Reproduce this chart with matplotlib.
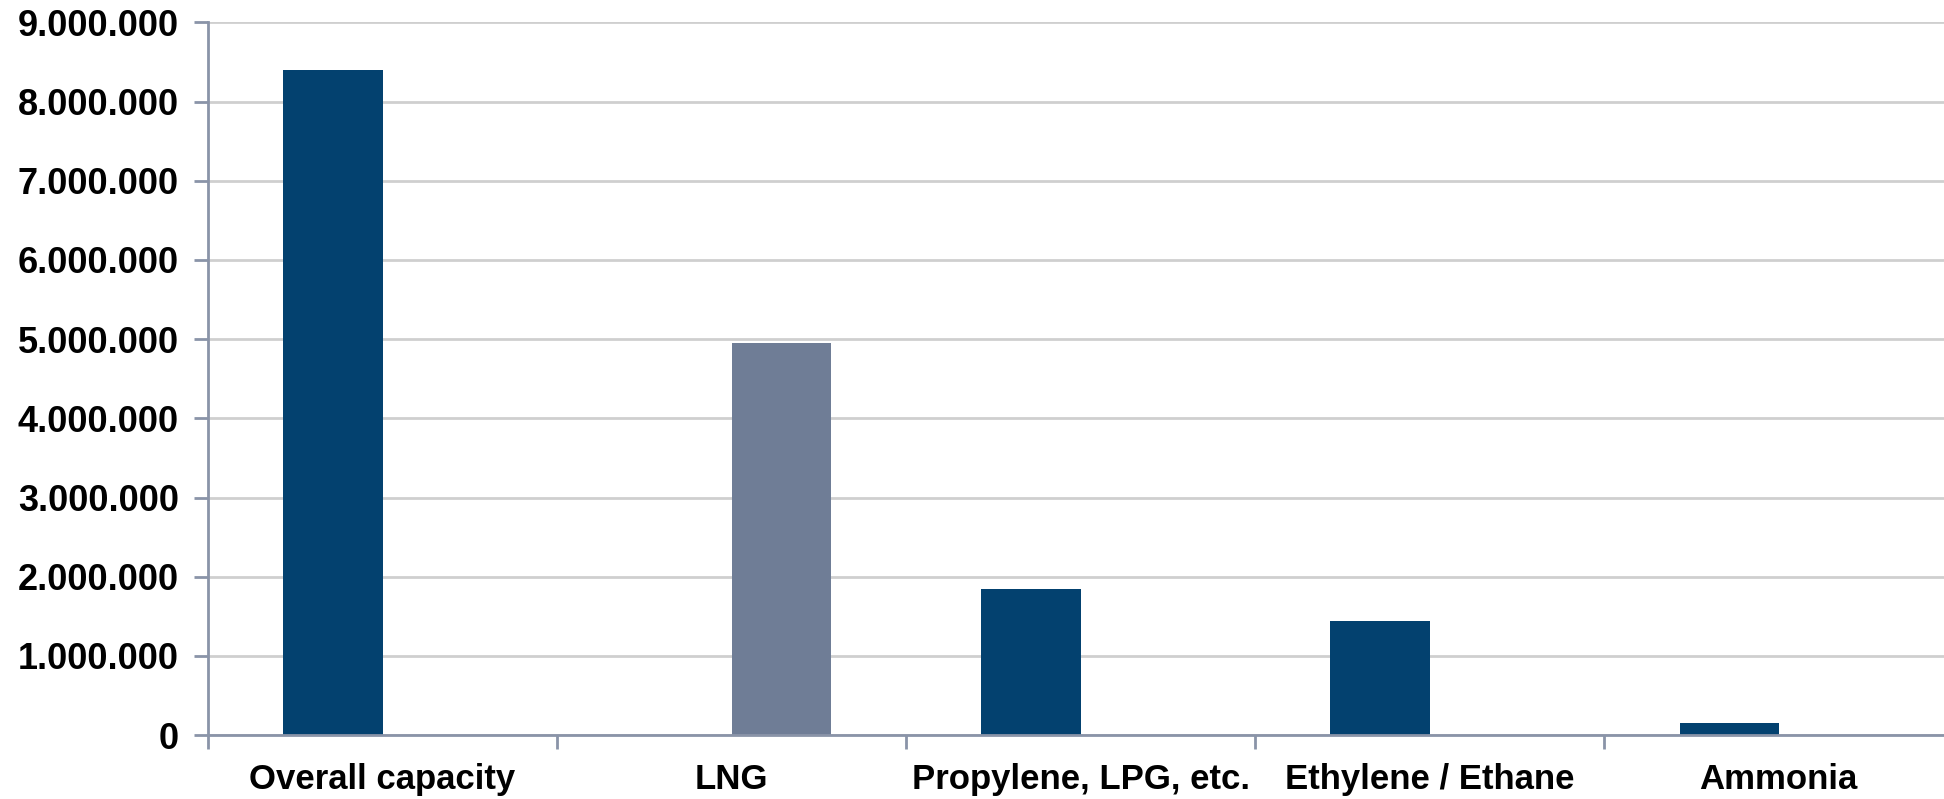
import numpy as np
import matplotlib.pyplot as plt
from matplotlib.ticker import FuncFormatter, MultipleLocator

categories = ['Overall capacity', 'LNG', 'Propylene, LPG, etc.', 'Ethylene / Ethane', 'Ammonia']
capacity = [8400000, 0, 1840000, 1440000, 150000]
lng = [0, 4950000, 0, 0, 0]

dark_blue = '#03416F'
grey_blue = '#6F7D96'
axis_col = '#8A94A8'

plt.rcParams['font.family'] = ['Liberation Sans', 'DejaVu Sans']

fig = plt.figure(figsize=(19.44, 7.99), dpi=100)
ax = fig.add_axes([0.107, 0.080, 0.8977, 0.892])

x = np.arange(len(categories))
w = 0.284
ax.bar(x - w / 2, capacity, width=w, color=dark_blue, linewidth=0, zorder=2)
ax.bar(x + w / 2, lng, width=w, color=grey_blue, linewidth=0, zorder=2)

ax.set_xlim(-0.5, len(categories) - 0.5)
ax.set_ylim(0, 9000000)
ax.yaxis.set_major_locator(MultipleLocator(1000000))
ax.yaxis.set_major_formatter(FuncFormatter(lambda v, p: f'{v:,.0f}'.replace(',', '.')))

ax.grid(axis='y', color='#CFCFCF', linewidth=2, zorder=0)
ax.set_axisbelow(True)

for s in ['top', 'right']:
    ax.spines[s].set_visible(False)
for s in ['left', 'bottom']:
    ax.spines[s].set_color(axis_col)
    ax.spines[s].set_linewidth(2)

ax.set_xticks(x)
ax.set_xticklabels(categories)
ax.set_xticks(np.arange(-0.5, len(categories), 1), minor=True)
ax.tick_params(axis='x', which='major', length=0, pad=20)
ax.tick_params(axis='x', which='minor', length=10, width=2, color=axis_col)
ax.tick_params(axis='y', length=10, width=2, color=axis_col, pad=11)

for lbl in ax.get_xticklabels():
    lbl.set_fontsize(25)
    lbl.set_fontweight('bold')
for lbl in ax.get_yticklabels():
    lbl.set_fontsize(26)
    lbl.set_fontweight('bold')

fig.savefig('out.png', dpi=100)
